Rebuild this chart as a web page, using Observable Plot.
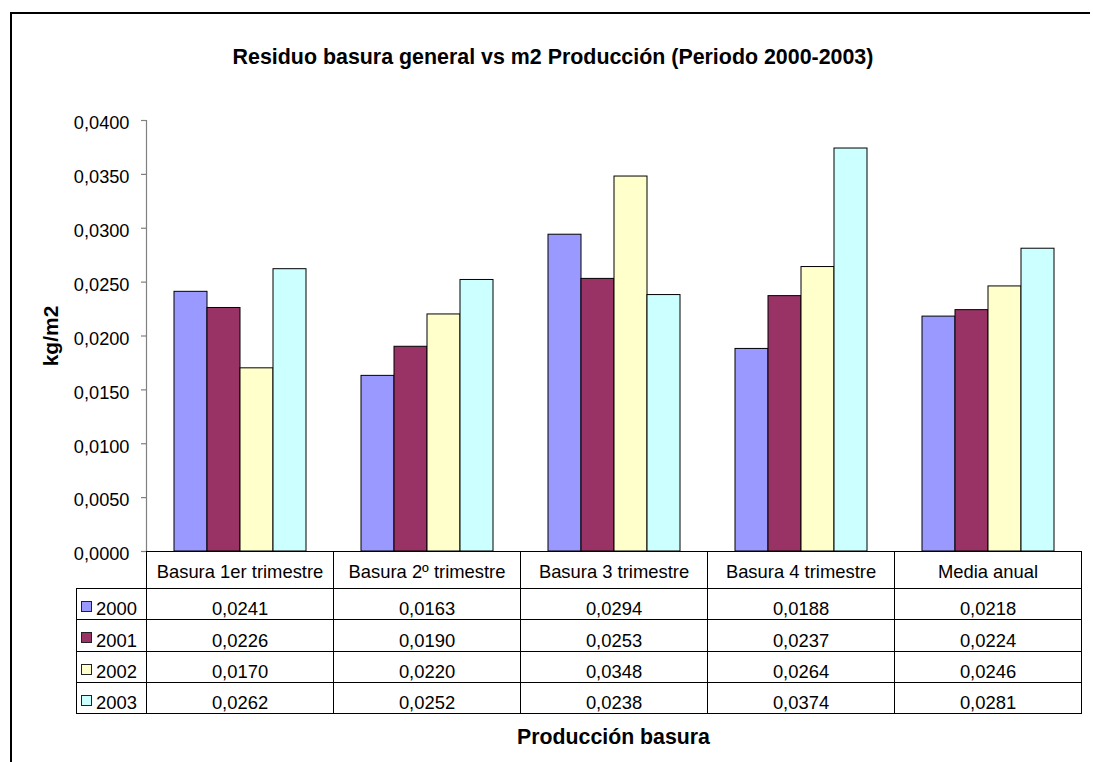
<!DOCTYPE html>
<html>
<head>
<meta charset="utf-8">
<script src="https://cdn.jsdelivr.net/npm/d3@7"></script>
<script src="https://cdn.jsdelivr.net/npm/@observablehq/plot@0.6"></script>
<style>
  html, body { margin: 0; padding: 0; background: #fff; overflow: hidden; }
  #wrap { position: relative; width: 1093px; height: 762px; overflow: hidden;
          font-family: "Liberation Sans", Arial, sans-serif; color: #000; }
  #ftop { position: absolute; left: 10px; top: 12px; width: 1080px; height: 2px; background: #000; }
  #fleft { position: absolute; left: 10px; top: 12px; width: 2px; height: 750px; background: #000; }
  #chart { position: absolute; left: 0; top: 0; }
  .ttl { position: absolute; white-space: nowrap; font-weight: bold; line-height: 21px; }
  .cell { position: absolute; box-sizing: border-box; border: 1px solid #000;
          display: flex; align-items: flex-end; justify-content: center;
          font-size: 18.4px; line-height: 18px; white-space: nowrap; }
  .leg { justify-content: flex-start; }
  .sw { position: absolute; left: 4px; top: 12px; width: 11px; height: 11px; box-sizing: border-box;
        border: 1px solid #222; }
  .yr { position: absolute; left: 19px; bottom: 1px; }
</style>
</head>
<body>
<div id="wrap">
  <div id="ftop"></div>
  <div id="fleft"></div>
  <div id="chart"></div>
  <div id="layer"></div>
</div>
<script>
// ---- data ----
const categories = ["Basura 1er trimestre", "Basura 2º trimestre", "Basura 3 trimestre", "Basura 4 trimestre", "Media anual"];
const years = ["2000", "2001", "2002", "2003"];
const v2000 = [0.0241, 0.0163, 0.0294, 0.0188, 0.0218];
const v2001 = [0.0226, 0.0190, 0.0253, 0.0237, 0.0224];
const v2002 = [0.0170, 0.0220, 0.0348, 0.0264, 0.0246];
const v2003 = [0.0262, 0.0252, 0.0238, 0.0374, 0.0281];
const colors = ["#9999FF", "#993366", "#FFFFCC", "#CCFFFF"];
const yTicks = [0, 0.005, 0.01, 0.015, 0.02, 0.025, 0.03, 0.035, 0.04];
const title = "Residuo basura general vs m2 Producción (Periodo 2000-2003)";
const xTitle = "Producción basura";
const yTitle = "kg/m2";

const series = [v2000, v2001, v2002, v2003];
const rows = categories.flatMap((c, i) => years.map((y, j) => ({cat: c, year: y, value: series[j][i]})));
const fmt = d => d.toFixed(4).replace(".", ",");

const chart = Plot.plot({
  width: 1093, height: 762,
  marginLeft: 145, marginRight: 11, marginTop: 120, marginBottom: 211,
  style: {fontFamily: '"Liberation Sans", Arial, sans-serif', fontSize: "18.2px", color: "#000", background: "transparent", overflow: "visible"},
  fx: {domain: categories, padding: 0, axis: null, label: null},
  x: {domain: years, paddingInner: 0, paddingOuter: 0.757, axis: null},
  y: {domain: [0, 0.04], axis: null},
  color: {domain: years, range: colors},
  marks: [
    Plot.barY(rows, {fx: "cat", x: "year", y: "value", fill: "year", stroke: "#000", strokeWidth: 1}),
    Plot.frame({anchor: "left", facetAnchor: "left", stroke: "#808080", strokeWidth: 1.2}),
    Plot.axisY({ticks: yTicks, tickSize: 5, fill: "none", stroke: "#808080", strokeWidth: 1.2, label: null, facetAnchor: "left"}),
    Plot.axisY({ticks: yTicks, tickSize: 5, tickPadding: 12, stroke: "none", fill: "#000", tickFormat: fmt, label: null, facetAnchor: "left"})
  ]
});
document.getElementById("chart").appendChild(chart);
// small vertical nudge of tick labels to match reference
d3.select(chart).selectAll('g[aria-label="y-axis tick label"] text').attr("dy", "3");

// ---- titles and data table ----
const layer = document.getElementById("layer");
function addDiv(cls, style, html) {
  const d = document.createElement("div");
  d.className = cls;
  Object.assign(d.style, style);
  d.innerHTML = html;
  layer.appendChild(d);
  return d;
}
addDiv("ttl", {left: "553px", top: "47px", fontSize: "21.4px", transform: "translateX(-50%)"}, title);
const fxS = chart.scale("fx"), yS = chart.scale("y");
const xLeft = 145, xRight = 1082;
addDiv("ttl", {left: ((xLeft + xRight) / 2) + "px", top: "727px", fontSize: "21.3px", transform: "translateX(-50%)"}, xTitle);
addDiv("ttl", {left: "50px", top: "335.5px", fontSize: "21px", transform: "translate(-50%,-50%) rotate(-90deg)"}, yTitle);

const y0 = yS.apply(0);
const headH = 37, rowH = 31.25, legL = 76;
const bw = fxS.bandwidth;
categories.forEach((c, i) => {
  const x = fxS.apply(c);
  addDiv("cell", {left: x + "px", top: y0 + "px", width: (bw + 1) + "px", height: (headH + 1) + "px", paddingBottom: "7px"}, c);
  years.forEach((yr, j) => {
    addDiv("cell", {left: x + "px", top: (y0 + headH + j * rowH) + "px", width: (bw + 1) + "px", height: (rowH + 1) + "px", paddingBottom: "1px"}, fmt(series[j][i]));
  });
});
years.forEach((yr, j) => {
  const x0 = legL, x1 = fxS.apply(categories[0]);
  addDiv("cell leg", {left: x0 + "px", top: (y0 + headH + j * rowH) + "px", width: (x1 - x0 + 1) + "px", height: (rowH + 1) + "px"},
    `<span class="sw" style="background:${colors[j]}"></span><span class="yr">${yr}</span>`);
});
</script>
</body>
</html>
